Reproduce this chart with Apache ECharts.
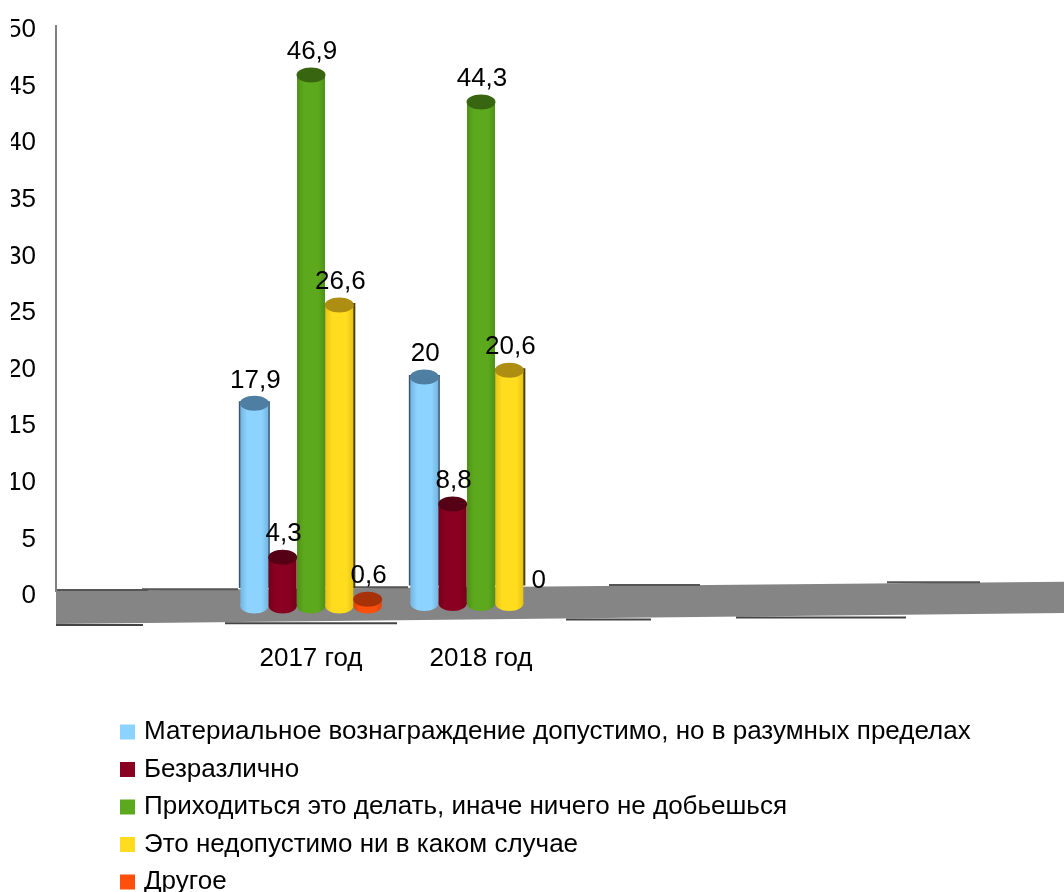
<!DOCTYPE html>
<html><head><meta charset="utf-8">
<style>html,body{margin:0;padding:0;background:#fff}#c{width:1064px;height:892px}</style>
<script src="https://cdn.jsdelivr.net/npm/echarts@6/dist/echarts.min.js"></script>
</head><body><div id="c"></div>
<script>
const categories = ['', '2017 год', '2018 год', '', '', ''];
const yTicks = [0, 50];
const seriesNames = [
  'Материальное вознаграждение допустимо, но в разумных пределах',
  'Безразлично',
  'Приходиться это делать, иначе ничего не добьешься',
  'Это недопустимо ни в каком случае',
  'Другое'
];
const reward = [null, 17.9, 20, null, null, null];
const indifferent = [null, 4.3, 8.8, null, null, null];
const haveTo = [null, 46.9, 44.3, null, null, null];
const unacceptable = [null, 26.6, 20.6, null, null, null];
const other = [null, 0.6, 0, null, null, null];
const allValues = [reward, indifferent, haveTo, unacceptable, other];

const bodyColors = ['#8CD4FF', '#8A0022', '#5DA91E', '#FFDD1E', '#FF4F0C'];
const edgeColors = ['#74B4E0', '#740018', '#4E9216', '#E8C414', '#E04408'];
const capColors = ['#4F7EA3', '#560016', '#38650F', '#AD8E12', '#A83208'];
const shadowColors = ['#3C566E', null, null, '#4a4010', null];
const shadowInsets = [[1.5, 1.5], null, null, [0, 2], null];

const FONT = '26px "Liberation Sans", Arial, sans-serif';
const DEPTH = 10, SLANT = 2.5;

function place(api, cat, val, seriesIdx) {
  const band = api.size([1, 0])[0];
  const step = band / 6;
  const drop = DEPTH - SLANT * (cat - 1);
  const origin = api.coord([cat, 0]);
  return { cx: origin[0] + (seriesIdx - 2) * step, top: api.coord([cat, val])[1] + drop, base: origin[1] + drop };
}

function cylinder(seriesIdx) {
  return function (params, api) {
    const cat = api.value(0), val = api.value(1);
    const { cx, top, base } = place(api, cat, val, seriesIdx);
    const rx = 14, ry = 7.5;
    const kids = [];
    if (val > 0) {
      const shadowBottom = base - 18;
      const inset = shadowInsets[seriesIdx];
      if (inset && shadowBottom > top) {
        kids.push({ type: 'rect', shape: { x: cx - rx - inset[0], y: top - 2, width: 2 * rx + inset[0] + inset[1], height: shadowBottom - top + 2 },
          style: { fill: shadowColors[seriesIdx] } });
      }
      const grad = new echarts.graphic.LinearGradient(0, 0, 1, 0, [
        { offset: 0, color: edgeColors[seriesIdx] },
        { offset: 0.25, color: bodyColors[seriesIdx] },
        { offset: 0.75, color: bodyColors[seriesIdx] },
        { offset: 1, color: edgeColors[seriesIdx] }
      ]);
      kids.push({ type: 'ellipse', shape: { cx: cx, cy: base, rx: rx, ry: ry }, style: { fill: grad } });
      kids.push({ type: 'rect', shape: { x: cx - rx, y: top, width: 2 * rx, height: base - top }, style: { fill: grad } });
      kids.push({ type: 'ellipse', shape: { cx: cx, cy: top, rx: rx + 0.5, ry: ry }, style: { fill: capColors[seriesIdx] } });
    }
    return { type: 'group', children: kids };
  };
}

function labelItem(params, api) {
  const cat = api.value(0), val = api.value(1), idx = api.value(2);
  const { cx, top } = place(api, cat, val, idx);
  return { type: 'text', style: { x: cx + 1, y: top - 23, text: String(val).replace('.', ','), font: FONT, fill: '#000',
    align: 'center', verticalAlign: 'middle' } };
}

const floorTopEdges = [[57,148],[142,238],[353,408],[609,700],[887,980]];
const floorBottomEdges = [[56,143],[225,397],[566,651],[736,906]];
function floorItem(params, api) {
  const topY = x => 591 - (x - 56) * 0.0092;
  const botY = x => 624 - (x - 56) * 0.0109;
  const kids = [
    { type: 'line', shape: { x1: 56, y1: 25, x2: 56, y2: 592 }, style: { stroke: '#808080', lineWidth: 2 } },
    { type: 'polygon', shape: { points: [[56, topY(56)], [1064, topY(1064)], [1064, botY(1064)], [56, botY(56)]] },
      style: { fill: '#858585' } }
  ];
  floorTopEdges.forEach(e => kids.push({ type: 'line', shape: { x1: e[0], y1: topY(e[0]) - 1, x2: e[1], y2: topY(e[0]) - 1 },
    style: { stroke: '#555', lineWidth: 2 } }));
  floorBottomEdges.forEach(e => kids.push({ type: 'line', shape: { x1: e[0], y1: botY(e[0]) + 1, x2: e[1], y2: botY(e[0]) + 1 },
    style: { stroke: '#444', lineWidth: 2 } }));
  return { type: 'group', children: kids };
}

const series = [{ type: 'custom', name: 'floor', silent: true, z: 1, clip: false, renderItem: floorItem, data: [[0, 0]], encode: { x: 0, y: 1 } }];
const labelData = [];
seriesNames.forEach((n, i) => {
  const pts = allValues[i].map((v, k) => v === null ? null : [k, v]).filter(d => d);
  pts.forEach(p => labelData.push([p[0], p[1], i]));
  series.push({
    type: 'custom', name: n, z: 2 + i, clip: false,
    renderItem: cylinder(i),
    itemStyle: { color: bodyColors[i] },
    encode: { x: 0, y: 1 },
    data: pts
  });
});
series.push({ type: 'custom', name: 'labels', z: 20, clip: false, silent: true, renderItem: labelItem, encode: { x: 0, y: 1 }, data: labelData });

const chart = echarts.init(document.getElementById('c'), null, { renderer: 'canvas' });
chart.setOption({
  animation: false,
  backgroundColor: '#fff',
  grid: { left: 56, top: 30, width: 1020, height: 566, containLabel: false, outerBoundsMode: 'none' },
  xAxis: { type: 'category', data: categories, boundaryGap: true,
    axisLine: { show: false }, axisTick: { show: false },
    axisLabel: { interval: 0, margin: 50, color: '#000', fontSize: 26, fontFamily: '"Liberation Sans", Arial, sans-serif' } },
  yAxis: { type: 'value', min: yTicks[0], max: yTicks[1], interval: 5, splitLine: { show: false },
    axisLine: { show: false }, axisTick: { show: false },
    axisLabel: { margin: 20, color: '#000', fontSize: 26, fontFamily: '"Liberation Sans", Arial, sans-serif' } },
  legend: {
    orient: 'vertical', left: 120, top: 719, height: 300, itemWidth: 15, itemHeight: 15, itemGap: 11.5, icon: 'rect',
    selectedMode: false, align: 'left', padding: 0,
    data: seriesNames,
    textStyle: { color: '#000', fontSize: 26, padding: [0, 0, 0, 4], fontFamily: '"Liberation Sans", Arial, sans-serif' }
  },
  graphic: [{ type: 'rect', z: 100, shape: { x: 0, y: 0, width: 11, height: 620 }, style: { fill: '#fff' }, silent: true }],
  series: series
});
</script></body></html>
